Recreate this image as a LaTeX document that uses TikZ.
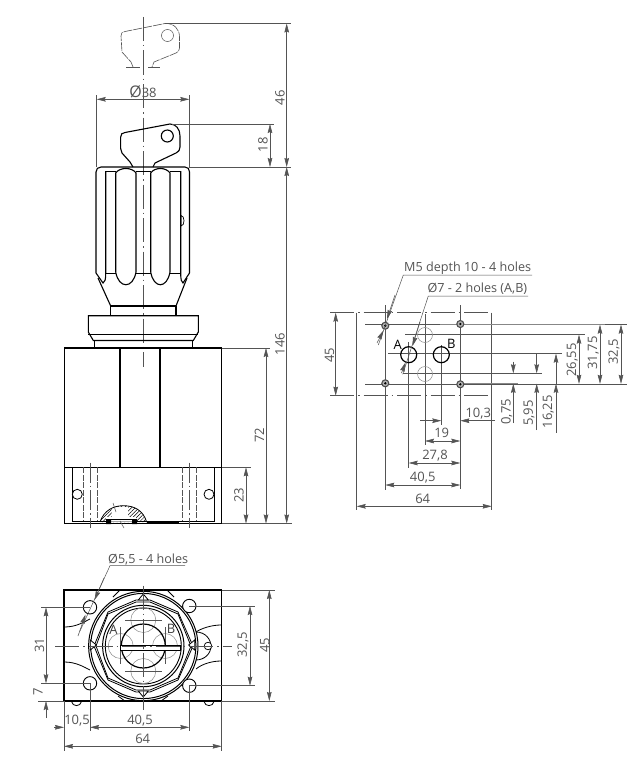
\documentclass[tikz,border=0pt]{standalone}
\usepackage{fontspec}
\setmainfont{Open Sans}
\usetikzlibrary{positioning, arrows.meta, calc, patterns.meta}
\definecolor{dimgray}{gray}{0.33}
\definecolor{portgray}{gray}{0.55}
\newcommand{\bigdia}{{\fontsize{16}{14}\selectfont Ø}}
\tikzstyle{outline} = [line width=1.1pt, black]
\tikzstyle{dimline} = [line width=0.55pt, dimgray, {Stealth[length=9pt,width=4.6pt,inset=1pt]}-{Stealth[length=9pt,width=4.6pt,inset=1pt]}]
\tikzstyle{tipend} = [line width=0.55pt, dimgray, -{Stealth[length=9pt,width=4.6pt,inset=1pt]}]
\tikzstyle{extline} = [line width=0.5pt, dimgray]
\tikzstyle{axisline} = [line width=0.5pt, dimgray, dash pattern=on 24pt off 4pt on 1.5pt off 4pt]
\tikzstyle{hidden} = [line width=0.5pt, dimgray, dash pattern=on 6pt off 1.5pt]
\tikzstyle{dimtext} = [inner sep=0pt, text=dimgray, font=\fontsize{13}{14}\selectfont]
\tikzstyle{notetext} = [dimtext, anchor=west, font=\fontsize{12.6}{14}\selectfont]
\tikzstyle{vdimtext} = [dimtext, rotate=90]
\tikzstyle{porttext} = [inner sep=0pt, text=black, font=\fontsize{13}{14}\selectfont]
\begin{document}
\begin{tikzpicture}[x=1pt, y=-1pt]
    \useasboundingbox (0,0) rectangle (640,768);
    \fill[white] (0,0) rectangle (640,768);

    % side view: key, parked and fitted
    \draw[axisline] (143.3,17) -- (143.3,367);
    \draw[line width=0.6pt, dimgray, dash pattern=on 9pt off 1pt] (133,67) -- (131,62) -- (122,52) -- (121,36) .. controls (121,33) and (122,32) .. (125,31.5) -- (165,23.5) .. controls (174,23) and (179.5,29) .. (179.5,37) -- (179.5,48) .. controls (179.5,51) and (178,52) .. (176,53) -- (154,62) -- (152,67);
    \draw[extline] (126,67) -- (140,67) (148,67) -- (160,67);
    \draw[extline] (167.5,35.5) circle (6);
    \draw[outline] (133,167) -- (130,162) -- (122,153) .. controls (120.5,150) and (120.5,150) .. (120.7,137) .. controls (120.7,134) and (122,133) .. (125,132.5) -- (170,124) .. controls (176,124) and (180,129) .. (180,136) -- (180,147) .. controls (180,150) and (179,151) .. (176,153) -- (155,163) -- (153,167);
    \draw[outline] (167.3,136) circle (6);

    % knob
    \draw[outline] (96,172) .. controls (96,169) and (98,167) .. (101,167) -- (185,167) .. controls (188,167) and (189.5,169) .. (189.5,172) -- (189.5,273);
    \draw[outline] (96,172) -- (96,273) -- (103,283) .. controls (105,282) and (105.7,280) .. (105.7,273) -- (105.7,171);
    \draw[outline] (189.5,273) -- (183,283) .. controls (181.5,282) and (180.7,280) .. (180.7,273) -- (180.7,171);
    \foreach \xa/\xb in {115.7/136, 150.7/170} {
        \draw[outline, fill=white] (\xa,173) .. controls (\xa+4,167) and (\xb-4,167) .. (\xb,173) -- (\xb,272) .. controls (\xb-3,289) and (\xa+3,289) .. (\xa,272) -- cycle;
    }
    \foreach \xa/\xb in {105.7/115.7, 136/150.7, 170/180.7} {
        \draw[line width=0.9pt] (\xa,171) -- (\xb,171) (\xa,273) -- (\xb,273);
    }
    \draw[line width=0.7pt] (181,215.5) .. controls (185,215.5) and (185,226) .. (181,226) -- cycle;
    \draw[outline] (98,278) -- (110.7,306) (187,278) -- (176,306);
    \draw[outline] (110.7,306) -- (176,306) (110.7,306) -- (110.7,315) (176,306) -- (176,315);
    \draw[outline] (88.3,315.7) -- (198.3,315.7) -- (198.3,332) -- (193.3,340.5) -- (93.3,340.5) -- (88.3,332) -- cycle;
    \draw[line width=0.9pt] (88.3,334) -- (198.3,334);
    \draw[outline] (94.7,340.5) -- (94.7,348) (192.3,340.5) -- (192.3,348);

    % body
    \draw[outline] (64.3,348) rectangle (221.7,523.3);
    \draw[outline] (120,348) -- (120,467.3) (160,348) -- (160,467.3) (64.3,467.3) -- (221.7,467.3);
    \draw[line width=0.9pt] (72,467.3) -- (72,521.3) -- (214,521.3) -- (214,467.3);
    \foreach \xh in {83.3, 97.7, 182.7, 196.7} {
        \draw[hidden] (\xh,467.3) -- (\xh,521.3);
    }
    \foreach \xh in {90.7, 189.3} {
        \draw[axisline, dash pattern=on 20pt off 3pt on 1.5pt off 3pt] (\xh,462.7) -- (\xh,528);
    }
    \foreach \xh/\yh in {77.3/494.3, 209/494.3} {
        \draw[line width=0.8pt, fill=white] (\xh,\yh) circle (5);
    }
    \fill[pattern={Lines[angle=45,distance=2.6pt,line width=0.5pt]}] (100,522) .. controls (104,510) and (114,505.7) .. (123.3,505.7) .. controls (134,505.7) and (143,510) .. (146.7,522) -- cycle;
    \fill[white] (111.5,507) rectangle (128,517) (106,517) rectangle (136,521.5);
    \draw[line width=0.8pt] (100,522) .. controls (104,510) and (114,505.7) .. (123.3,505.7) .. controls (134,505.7) and (143,510) .. (146.7,522);
    \draw[line width=0.6pt] (111,519) -- (132,519);
    \fill[black] (106.2,519) rectangle (111.2,524) (132.2,519) rectangle (137.2,524);
    \draw[line width=1.3pt] (146.7,523) -- (179,523);
    \draw[extline] (113,503) -- (116,512) (120,521) -- (124,528);

    % dimensions of the side view
    \draw[extline] (96.7,95) -- (96.7,167) (189.3,95) -- (189.3,167);
    \draw[dimline] (96.7,99.3) -- (189.3,99.3);
    \node (dia_knob) [dimtext] at (143,91.5) {\bigdia38};
    \draw[extline] (165,23.5) -- (291,23.5) (189,167) -- (291,167) (172,124) -- (274,124);
    \draw[dimline] (286.7,23.5) -- (286.7,167);
    \node (dim_park) [vdimtext] at (280,98) {46};
    \draw[dimline] (270,124) -- (270,167);
    \node (dim_key) [vdimtext] at (263,145) {18};
    \draw[dimline] (286.7,167) -- (286.7,523.5);
    \node (dim_total) [vdimtext] at (280,344) {146};
    \draw[extline] (221.7,348) -- (270,348) (221.7,467.3) -- (251,467.3) (221.7,523.5) -- (292,523.5);
    \draw[dimline] (266,348) -- (266,523.5);
    \node (dim_body) [vdimtext] at (259.3,435) {72};
    \draw[dimline] (246,467.3) -- (246,523.5);
    \node (dim_base) [vdimtext] at (239,495) {23};

    % bottom view
    \draw[outline] (64,590) rectangle (221.7,701);
    \draw[line width=0.8pt] (64.5,627) .. controls (76,627) and (84,622) .. (90,619) (64.5,662) .. controls (76,662) and (84,667) .. (90,670);
    \draw[line width=0.8pt] (221,625) .. controls (212,625) and (202,628) .. (196,632) (221,661) .. controls (212,661) and (202,664) .. (196,669);
    \draw[line width=0.8pt] (113,597) -- (120,590) (167,590) -- (174,597) (118,696) -- (125,701) (161,701) -- (168,696);
    \draw[line width=0.8pt, fill=white] (196,632) .. controls (206,632) and (211,640) .. (211,646) .. controls (211,654) and (204,660) .. (196,660);
    \draw[line width=0.7pt, fill=white] (208,646) circle (3.8);
    \draw[line width=1pt, fill=white] (143.3,646) circle (54.7);
    \draw[line width=1pt] (143.3,646) circle (52.6);
    \foreach \dx in {0, 2} {
        \draw[line width=0.8pt] (136,600+\dx) -- (150,600+\dx) -- (178,612+\dx) -- (193-\dx,646) -- (178,680-\dx) -- (150,692-\dx) -- (136,692-\dx) -- (108,680-\dx) -- (94+\dx,646) -- (108,612+\dx) -- cycle;
    }
    \draw[line width=1pt] (143.3,646) circle (40.7);
    \draw[line width=0.9pt] (143.3,646) circle (38);
    \foreach \xp/\yp in {143.3/620, 143.3/671, 120.7/646, 165/646} {
        \draw[line width=0.5pt, portgray] (\xp,\yp) circle (12.5);
    }
    \draw[extline] (125,620) -- (162,620) (125,671) -- (162,671) (120.7,627) -- (120.7,664) (165,627) -- (165,664);
    \draw[line width=1.2pt] (143.3,646) circle (22);
    \draw[line width=0.9pt, fill=white] (120.7,645) rectangle (180,650);
    \foreach \xm/\ym/\ang in {143.3/597/0, 143.3/694/180, 93.3/645/270, 191.7/645/90} {
        \draw[line width=0.8pt, fill=white, shift={(\xm,\ym)}, rotate=\ang] (-5,3) -- (0,-3) -- (5,3) -- cycle;
    }
    \draw[axisline] (55,646) -- (231.7,646);
    \draw[axisline] (143.3,585.7) -- (143.3,710);
    \foreach \xh/\yh in {90/607.3, 189.3/606, 90/683.3, 189.3/685.7} {
        \draw[line width=0.9pt, fill=white] (\xh,\yh) circle (6.7);
    }
    \foreach \xf in {76.5, 209} {
        \draw[line width=0.8pt] (\xf-5,701.5) .. controls (\xf-4,707) and (\xf+4,707) .. (\xf+5,701.5);
    }
    \node (port_a_low) [porttext, text=black!75] at (113.5,629.5) {A};
    \node (port_b_low) [porttext, text=black!75] at (171,628.5) {B};

    % dimensions of the bottom view
    \draw[extline] (41,607.3) -- (90,607.3) (41,683.3) -- (90,683.3) (38,701) -- (64,701);
    \draw[dimline] (46,607.3) -- (46,683.3);
    \draw[tipend] (46,718) -- (46,701);
    \node (dim_holes_l) [vdimtext] at (39.5,645) {31};
    \node (dim_seven) [vdimtext] at (38,692) {7};
    \draw[extline] (189.3,606) -- (255,606) (189.3,685.7) -- (255,685.7) (221.7,590) -- (275,590) (221.7,701) -- (275,701);
    \draw[dimline] (250,606) -- (250,685.7);
    \node (dim_holes_r) [vdimtext] at (243,645) {32,5};
    \draw[dimline] (269.3,590) -- (269.3,701);
    \node (dim_depth) [vdimtext] at (264.7,645) {45};
    \draw[extline] (64,701) -- (64,751) (221.7,701) -- (221.7,751) (90,683) -- (90,731) (189.3,685) -- (189.3,731);
    \draw[tipend] (54,727.3) -- (64,727.3);
    \draw[dimline] (90,727.3) -- (189.3,727.3);
    \node (dim_edge) [dimtext] at (77,721) {10,5};
    \node (dim_pitch) [dimtext] at (140,721) {40,5};
    \draw[dimline] (64,746.3) -- (221.7,746.3);
    \node (dim_width) [dimtext] at (142.7,739) {64};
    \node (note_bolts) [notetext] at (108,559.5) {Ø5,5 - 4 holes};
    \draw[extline] (185,565.7) -- (110,565.7) -- (80,631);
    \draw[tipend] (104,578) -- (94.5,600);
    \draw[tipend] (78,636) -- (85.5,614.5);

    % mounting surface
    \draw[axisline] (330,312.7) -- (491.7,312.7);
    \draw[axisline] (330,395.7) -- (491.7,395.7);
    \draw[extline] (356.7,312.7) -- (356.7,510) (491.7,312.7) -- (491.7,510);
    \draw[dimline] (335.7,312.7) -- (335.7,395.7);
    \node (dim_plate) [vdimtext] at (329.5,355) {45};
    \foreach \yl/\xa/\xb in {324.7/365/626.7, 334.7/405/585, 353.7/388/561.7, 373.3/403/541.7, 383.8/365/626.7} {
        \draw[extline] (\xa,\yl) -- (\xb,\yl);
    }
    \draw[line width=1pt, dimgray!70] (440,324.7) -- (605,324.7);
    \draw[line width=1pt, dimgray!70] (460,383.8) -- (518,383.8);
    \foreach \xl/\ya/\yb in {385.3/305/490, 460.3/305/489, 408.7/342/468, 441.3/345/425, 425/314/445} {
        \draw[extline] (\xl,\ya) -- (\xl,\yb);
    }
    \foreach \xh/\yh in {385.3/325.7, 460.3/324, 385.3/383.3, 460.3/384.3} {
        \draw[line width=1.1pt, black!70, fill=dimgray!45] (\xh,\yh) circle (3.5);
        \fill[black] (\xh,\yh) circle (1.3);
    }
    \draw[line width=0.5pt, portgray] (425,335) circle (7.5) (425,374) circle (7.5);
    \draw[line width=1.2pt] (408.7,354.7) circle (8) (441.3,354.7) circle (8);
    \node (port_a) [porttext] at (397.7,345) {A};
    \node (port_b) [porttext] at (451.3,344.3) {B};

    % dimensions of the mounting surface
    \draw[dimline] (621,324.7) -- (621,383.8);
    \node (dim_r1) [vdimtext] at (614,351.7) {32,5};
    \draw[dimline] (600,324.7) -- (600,383.8);
    \node (dim_r2) [vdimtext] at (593.3,353) {31,75};
    \draw[dimline] (579,334.7) -- (579,383.8);
    \node (dim_r3) [vdimtext] at (572.3,360) {26,55};
    \draw[tipend] (556,432.7) -- (556,383.8);
    \draw[tipend] (556,372) -- (556,353.7);
    \draw[extline] (556,372) -- (556,384);
    \node (dim_r4) [vdimtext] at (548.3,411.7) {16,25};
    \draw[tipend] (536.7,430) -- (536.7,383.8);
    \draw[tipend] (536.7,353) -- (536.7,373.3);
    \node (dim_r5) [vdimtext] at (529,413) {5,95};
    \draw[tipend] (513.3,423) -- (513.3,383.8);
    \draw[tipend] (513.3,361.7) -- (513.3,373.3);
    \node (dim_r6) [vdimtext] at (506.7,411.7) {0,75};
    \draw[tipend] (420,420.7) -- (441.3,420.7);
    \draw[tipend] (495,420.7) -- (460.3,420.7);
    \node (dim_b1) [dimtext] at (478.3,414) {10,3};
    \draw[dimline] (425,441) -- (460.3,441);
    \node (dim_b2) [dimtext] at (441.7,433.3) {19};
    \draw[dimline] (408.7,463) -- (460.3,463);
    \node (dim_b3) [dimtext] at (435,455.7) {27,8};
    \draw[dimline] (385.3,485) -- (460.3,485);
    \node (dim_b4) [dimtext] at (422.7,477.7) {40,5};
    \draw[dimline] (356.7,506.3) -- (491.7,506.3);
    \node (dim_b5) [dimtext] at (422.7,498.7) {64};

    % notes on the mounting surface
    \node (note_thread) [notetext] at (404,268) {M5 depth 10 - 4 holes};
    \draw[extline] (532,275) -- (403.3,275) -- (378.3,345);
    \draw[tipend] (395,295) -- (387,319);
    \draw[tipend] (377,343) -- (383.5,330.5);
    \node (note_port) [notetext] at (427.3,289) {Ø7 - 2 holes (A,B)};
    \draw[extline] (528,296) -- (428.3,296) -- (402.7,374.3);
    \draw[tipend] (420,322) -- (412.5,346);
    \draw[tipend] (401.5,373) -- (405.5,362.5);
\end{tikzpicture}
\end{document}
